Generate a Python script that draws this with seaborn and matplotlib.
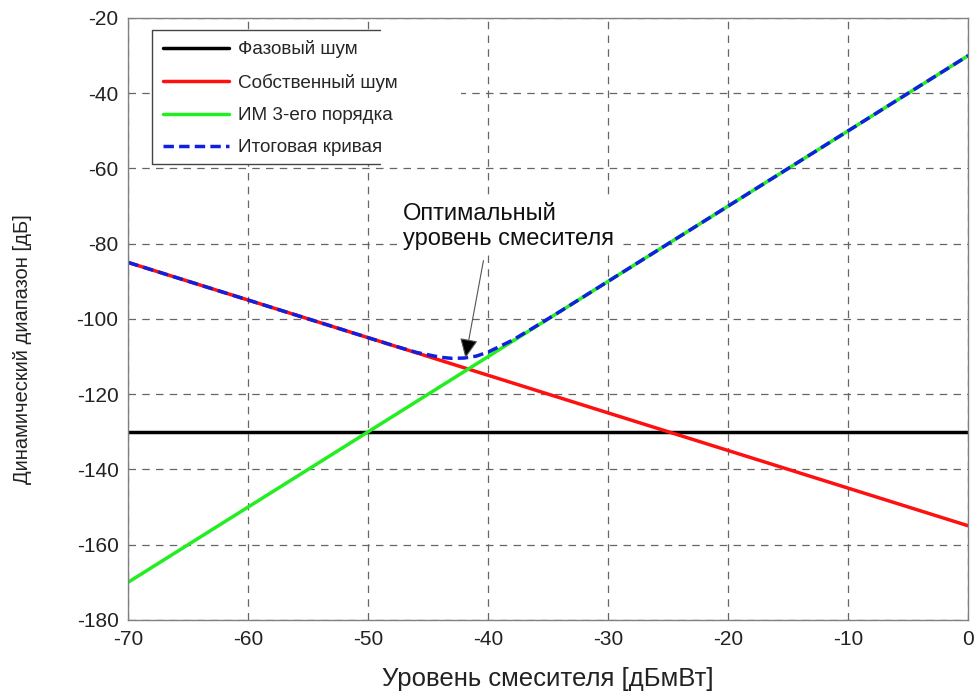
import numpy as np
import pandas as pd
import matplotlib
matplotlib.use("Agg")
import matplotlib.pyplot as plt
import seaborn as sns
from matplotlib.patches import Rectangle

# values
phase_x = [-70, 0]
phase_y = [-130, -130]

own_x = [-70, 0]
own_y = [-85, -155]

im3_x = [-70, 0]
im3_y = [-170, -30]

total_x = [-70, -60, -50, -48, -46, -44, -43, -42, -41, -40, -38, -36, -34, -30, -20, -10, 0]
total_y = [-85, -95, -105, -107, -108.9, -110.2, -110.5, -110.4, -109.9, -108.8,
           -105.7, -101.9, -98, -90, -70, -50, -30]

labels = ['Фазовый шум', 'Собственный шум', 'ИМ 3-его порядка', 'Итоговая кривая']

sns.set_style("white")
plt.rcParams['font.family'] = ['Liberation Sans', 'DejaVu Sans']
plt.rcParams['axes.unicode_minus'] = False

fig = plt.figure(figsize=(9.79, 6.91), dpi=100)
ax = fig.add_axes([0.131, 0.103, 0.858, 0.871])

sns.lineplot(x=phase_x, y=phase_y, ax=ax, color='black', linewidth=2.5, label=labels[0])
sns.lineplot(x=own_x, y=own_y, ax=ax, color='#ff1010', linewidth=2.5, label=labels[1])
sns.lineplot(x=im3_x, y=im3_y, ax=ax, color='#22ee22', linewidth=2.5, label=labels[2])
sns.lineplot(x=total_x, y=total_y, ax=ax, color='#1020dd', linewidth=2.5,
             linestyle=(0, (3, 1.5)), label=labels[3])

ax.set_xlim(-70, 0)
ax.set_ylim(-180, -20)
ax.set_xticks(range(-70, 1, 10))
ax.set_yticks(range(-180, -19, 20))
ax.grid(True, color='#666666', linestyle=(0, (6, 5)), linewidth=0.9)
ax.tick_params(axis='y', direction='in', length=4, color='#777777', labelsize=15,
               labelcolor='#222222', pad=7)
ax.tick_params(axis='x', direction='in', length=4, color='#777777', labelsize=15,
               labelcolor='#222222', pad=7)
for s in ax.spines.values():
    s.set_color('#808080')
    s.set_linewidth(1)

ax.set_xlabel('Уровень смесителя [дБмВт]', fontsize=18.5, color='#222222', labelpad=13)
ax.set_ylabel('Динамический диапазон [дБ]', fontsize=14.5, color='#222222')
ax.yaxis.set_label_coords(-0.115, 0.449)

ax.text(-47.1, -69.3, 'Оптимальный\nуровень смесителя', fontsize=17, color='#111111',
        ha='left', va='top', linespacing=1.14,
        bbox=dict(facecolor='white', edgecolor='none', pad=4))
ax.annotate('', xy=(-41.9, -110.4), xytext=(-40.4, -84.5),
            arrowprops=dict(arrowstyle='-|>,head_length=0.6,head_width=0.28',
                            fc='black', ec='#555555', lw=0.8,
                            shrinkA=0, shrinkB=0, mutation_scale=20))

# legend background and its open-sided border
ax.add_patch(Rectangle((0.0286, 0.757), 0.367, 0.223, transform=ax.transAxes,
                       facecolor='white', edgecolor='none', zorder=2.5))
ax.plot([0.300, 0.0286, 0.0286, 0.300], [0.980, 0.980, 0.757, 0.757],
        transform=ax.transAxes, color='#444444', lw=1, zorder=2.6)

leg = ax.legend(loc='upper left', bbox_to_anchor=(0.0286, 0.98), fontsize=13.6,
                frameon=False, handlelength=3.5, borderpad=0.55, labelspacing=0.8,
                handletextpad=0.5, borderaxespad=0)

fig.savefig('out.png', dpi=100)
